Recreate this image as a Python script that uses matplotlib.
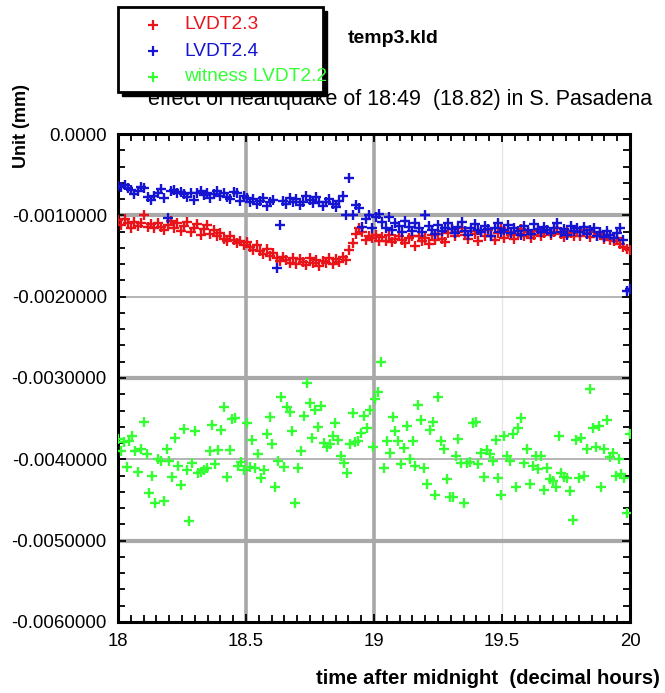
import numpy as np
import matplotlib
matplotlib.use('Agg')
import matplotlib.pyplot as plt
from matplotlib.lines import Line2D
from matplotlib.patches import Rectangle
from matplotlib.ticker import MultipleLocator, FuncFormatter

plt.rcParams['font.family'] = ['Liberation Sans', 'DejaVu Sans']

# readings in units of 1e-4 mm, sampled evenly from 18:00 to 20:00
lvdt23 = [
    -10.6, -11.2, -10.4, -11.0, -11.5, -10.8, -11.3, -10.9, -10.0, -11.4,
    -11.1, -11.6, -10.9, -11.4, -11.8, -11.2, -10.7, -11.5, -11.0, -11.9,
    -11.3, -10.8, -12.0, -11.5, -11.1, -12.4, -11.7, -11.2, -12.3, -11.8,
    -12.6, -12.2, -12.9, -13.2, -12.5, -13.0, -13.4, -13.1, -13.6, -13.3,
    -13.9, -14.2, -13.7, -14.4, -14.8, -14.1, -15.0, -14.6, -15.3, -15.6,
    -15.1, -15.5, -15.8, -15.2, -16.0, -15.4, -15.7, -16.1, -15.3, -15.9,
    -15.5, -16.2, -15.6, -15.8, -15.2, -16.0, -15.4, -15.7, -15.1, -15.5,
    -14.2, -13.4, -12.3, -11.6, -12.0, -13.0, -12.5, -12.8, -12.4, -13.2,
    -12.7, -13.1, -12.4, -13.3, -12.9, -12.5, -13.0, -13.4, -12.8, -12.6,
    -13.8, -12.5, -13.2, -12.8, -13.5, -12.4, -13.0, -12.3, -12.9, -13.3,
    -12.2, -11.7, -12.6, -12.0, -11.5, -12.4, -12.9, -11.9, -12.3, -13.1,
    -12.1, -12.6, -11.8, -12.5, -13.0, -12.2, -11.6, -12.8, -12.0, -12.4,
    -12.9, -12.3, -11.7, -12.6, -12.1, -12.8, -12.4, -11.9, -12.5, -12.2,
    -11.8, -12.4, -12.0, -11.5, -12.3, -12.7, -11.9, -12.2, -12.6, -12.0,
    -12.5, -11.8, -12.2, -12.7, -12.1, -12.6, -12.3, -12.9, -12.4, -13.0,
    -13.2, -12.8, -13.5, -13.9, -14.1, -14.3,
]

lvdt24 = [
    -6.4, -6.5, -6.3, -6.6, -6.9, -7.4, -7.0, -6.5, -6.6, -7.8,
    -8.1, -7.6, -7.2, -6.8, -7.9, -10.3, -7.0, -6.9, -7.3, -7.1,
    -7.4, -7.8, -7.2, -8.1, -7.3, -7.0, -7.5, -7.2, -7.9, -7.4,
    -7.0, -7.6, -7.2, -7.8, -8.0, -7.1, -7.3, -8.2, -7.6, -7.9,
    -8.4, -8.0, -8.6, -8.2, -7.9, -8.8, -8.3, -8.1, -16.5, -11.2,
    -8.2, -8.6, -7.9, -8.4, -8.0, -8.7, -8.3, -7.6, -8.1, -8.5,
    -7.8, -8.3, -8.9, -8.4, -8.0, -8.6, -9.0, -8.2, -7.6, -9.9,
    -5.4, -9.9, -8.7, -9.1, -11.4, -10.5, -10.0, -11.6, -10.2, -9.8,
    -10.8, -11.5, -10.2, -11.8, -10.9, -11.3, -12.0, -10.7, -11.4, -11.9,
    -11.0, -11.6, -12.1, -10.0, -11.3, -11.8, -12.3, -11.2, -11.9, -11.5,
    -10.9, -11.7, -12.2, -11.4, -10.8, -11.9, -12.4, -11.6, -11.1, -11.8,
    -12.0, -11.3, -11.7, -12.5, -11.5, -11.0, -12.1, -11.8, -11.2, -12.2,
    -11.6, -11.9, -12.4, -11.3, -11.8, -12.3, -11.1, -11.7, -12.0, -11.4,
    -11.8, -12.2, -11.5, -11.0, -12.1, -11.7, -12.4, -11.3, -11.9, -11.6,
    -12.0, -11.4, -12.3, -11.8, -11.5, -12.5, -12.1, -12.7, -11.9, -12.4,
    -12.8, -12.2, -11.6, -13.0, -19.3, -19.0,
]

witness22 = [
    -37.5, -39.0, -37.9, -41.0, -37.8, -37.1, -39.0, -41.5, -38.7, -35.4,
    -39.4, -44.2, -42.1, -45.4, -39.9, -40.2, -45.1, -38.7, -40.2, -42.2,
    -37.4, -40.8, -43.2, -36.3, -41.3, -47.6, -40.5, -36.5, -41.7, -41.6,
    -41.3, -41.1, -39.0, -35.8, -40.6, -38.9, -36.4, -33.6, -42.2, -38.9,
    -35.1, -34.9, -40.8, -40.3, -41.3, -35.5, -41.0, -37.6, -41.1, -39.4,
    -42.3, -41.3, -36.9, -34.8, -38.1, -43.4, -40.2, -32.3, -41.0, -33.6,
    -34.2, -36.5, -45.4, -41.1, -39.0, -34.7, -30.6, -33.1, -37.4, -33.9,
    -36.0, -33.5, -38.0, -38.5, -38.1, -37.1, -35.5, -37.6, -39.6, -40.5,
    -41.7, -38.1, -34.3, -37.9, -37.8, -36.8, -34.7, -36.2, -33.9, -38.5,
    -32.6, -31.7, -28.0, -41.1, -37.8, -39.2, -34.8, -36.5, -37.8, -40.6,
    -38.6, -35.9, -39.9, -37.8, -40.8, -33.3, -35.2, -41.1, -43.0, -36.4,
    -35.4, -44.4, -32.3, -37.8, -38.7, -42.4, -44.6, -44.6, -39.6, -37.5,
    -40.5, -45.4, -40.5, -40.3, -35.5, -35.4, -40.6, -39.2, -42.2, -38.9,
    -39.4, -40.2, -37.6, -42.3, -44.4, -37.1, -39.6, -40.2, -36.9, -43.4,
    -36.2, -34.9, -40.5, -38.7, -43.0, -40.8, -39.6, -41.2, -39.6, -43.8,
    -41.1, -42.4, -42.7, -43.4, -37.1, -41.7, -42.2, -42.3, -43.9, -47.5,
    -37.6, -42.3, -37.4, -42.1, -38.7, -31.4, -36.2, -38.5, -35.9, -43.4,
    -38.7, -35.2, -39.7, -39.2, -42.1, -40.0, -41.8, -42.3, -46.6, -36.9,
]

t_start, t_end = 18.0, 20.0
t_main = np.linspace(t_start, t_end, len(lvdt23))
t_wit = np.linspace(t_start, t_end, len(witness22))

c_red = '#e8141a'
c_blue = '#1414d2'
c_green = '#33ff33'

fig = plt.figure(figsize=(6.65, 6.93), dpi=100)
ax = fig.add_axes([0.1774, 0.1025, 0.7700, 0.7041])

# grid-ish reference lines like the original
for xv in [18.5, 19.0]:
    ax.axvline(xv, color='#a8a8a8', lw=2.6, zorder=1)
ax.axvline(19.5, color='#e4e4e4', lw=0.9, zorder=1)
for yv in [-0.001, -0.003, -0.005]:
    ax.axhline(yv, color='#a8a8a8', lw=3.0, zorder=1)
for yv in [-0.002, -0.004]:
    ax.axhline(yv, color='#a8a8a8', lw=1.2, zorder=1)

mk = dict(marker='+', linestyle='none', markersize=7, markeredgewidth=1.7, zorder=3)
ax.plot(t_wit, np.array(witness22) * 1e-4, color=c_green, **mk)
ax.plot(t_main, np.array(lvdt23) * 1e-4, color=c_red, **mk)
ax.plot(t_main, np.array(lvdt24) * 1e-4, color=c_blue, **mk)

ax.set_xlim(18, 20)
ax.set_ylim(-0.006, 0)
ax.xaxis.set_major_locator(MultipleLocator(0.5))
ax.xaxis.set_minor_locator(MultipleLocator(0.05))
ax.yaxis.set_major_locator(MultipleLocator(0.001))
ax.yaxis.set_minor_locator(MultipleLocator(0.0002))
ax.xaxis.set_major_formatter(FuncFormatter(lambda v, p: f'{v:g}'))
ax.yaxis.set_major_formatter(FuncFormatter(lambda v, p: '0.0000' if abs(v) < 1e-9 else f'{v:.7f}'))
ax.tick_params(which='both', direction='in', top=True, right=True, width=1.3, labelsize=13.4, pad=8)
ax.tick_params(which='major', length=6)
ax.tick_params(which='minor', length=5)
for s in ax.spines.values():
    s.set_linewidth(2.2)

fig.text(0.591, 0.945, 'temp3.kld', fontsize=14, fontweight='bold', ha='center', va='center')
fig.text(0.2226, 0.8557, 'effect of heartquake of 18:49  (18.82) in S. Pasadena',
         fontsize=15.5, ha='left', va='center')
fig.text(0.9925, 0.0216, 'time after midnight  (decimal hours)', fontsize=14.6,
         fontweight='bold', ha='right', va='center')
fig.text(0.033, 0.818, 'Unit (mm)', fontsize=13, fontweight='bold', rotation=90,
         ha='center', va='center')

# hand-made legend box with drop shadow
bx, by, bw, bh = 0.1774, 0.8672, 0.3083, 0.1227
fig.add_artist(Rectangle((bx + 0.006, by - 0.006), bw, bh, transform=fig.transFigure,
                         facecolor='black', edgecolor='black', zorder=5))
fig.add_artist(Rectangle((bx, by), bw, bh, transform=fig.transFigure,
                         facecolor='white', edgecolor='black', lw=2, zorder=6))
names = ['LVDT2.3', 'LVDT2.4', 'witness LVDT2.2']
colors = [c_red, c_blue, c_green]
rows = [0.964, 0.9264, 0.8889]
for name, col, ry in zip(names, colors, rows):
    fig.add_artist(Line2D([0.230], [ry], transform=fig.transFigure, color=col,
                          marker='+', markersize=7, markeredgewidth=1.6, zorder=7))
    fig.text(0.2767, ry, name, color=col, fontsize=13.8, ha='left', va='center', zorder=8)

fig.savefig('out.png', dpi=100)
